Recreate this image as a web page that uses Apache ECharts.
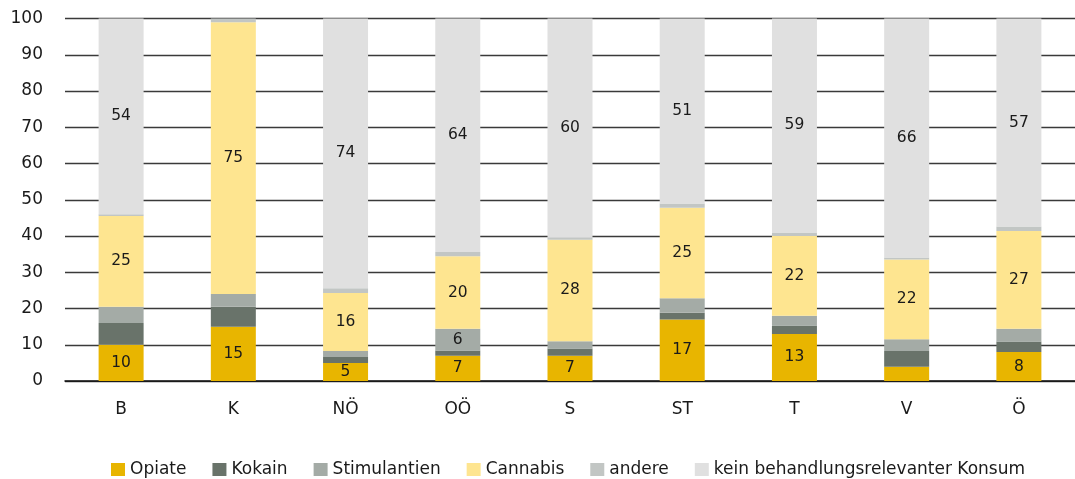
<!DOCTYPE html>
<html>
<head>
<meta charset="utf-8">
<script src="https://cdn.jsdelivr.net/npm/echarts@6/dist/echarts.min.js"></script>
<style>
  html, body { margin: 0; padding: 0; background: #fff; }
  #chart { width: 1075px; height: 479px; }
</style>
</head>
<body>
<div id="chart"></div>
<script>
// Regions (Bundesländer) and share of each main drug (percent)
const categories = ['B', 'K', 'NÖ', 'OÖ', 'S', 'ST', 'T', 'V', 'Ö'];
const opiate       = [10, 15, 5, 7, 7, 17, 13, 3.9, 8];
const kokain       = [6, 5.5, 1.6, 1.4, 2, 1.8, 2.3, 4.4, 2.9];
const stimulantien = [4.5, 3.5, 1.7, 6, 2, 4, 2.7, 3.2, 3.5];
const cannabis     = [25, 75, 16, 20, 28, 25, 22, 22, 27];
const andere       = [0.5, 1, 1.3, 1.2, 0.6, 1.2, 1, 0.6, 1.2];
const keinKonsum   = [54, 0, 74.4, 64.4, 60.4, 51, 59, 65.9, 57.4];
const yTicks = [0, 10, 20, 30, 40, 50, 60, 70, 80, 90, 100];

const FONT = "'DejaVu Sans', sans-serif";

const seriesDefs = [
  { name: 'Opiate', data: opiate, color: '#e8b500' },
  { name: 'Kokain', data: kokain, color: '#69736a' },
  { name: 'Stimulantien', data: stimulantien, color: '#a4aba6' },
  { name: 'Cannabis', data: cannabis, color: '#fee590' },
  { name: 'andere', data: andere, color: '#c2c6c4' },
  { name: 'kein behandlungsrelevanter Konsum', data: keinKonsum, color: '#e0e0e0' }
];

// only these series carry value labels on their larger segments
const labelled = ['Opiate', 'Stimulantien', 'Cannabis', 'kein behandlungsrelevanter Konsum'];

const chart = echarts.init(document.getElementById('chart'), null, { renderer: 'canvas' });

chart.setOption({
  animation: false,
  backgroundColor: '#ffffff',
  grid: { left: 65, top: 18.5, width: 1017, height: 362.5, containLabel: false },
  legend: {
    left: 106,
    top: 456,
    itemWidth: 14,
    itemHeight: 13,
    itemGap: 26,
    icon: 'rect',
    textStyle: { fontFamily: FONT, fontSize: 17, color: '#1a1a1a' },
    data: seriesDefs.map(s => s.name)
  },
  xAxis: {
    type: 'category',
    data: categories,
    axisTick: { show: false },
    axisLine: { lineStyle: { color: '#111', width: 1.5 } },
    axisLabel: { fontFamily: FONT, fontSize: 17, color: '#1a1a1a', margin: 20 }
  },
  yAxis: {
    type: 'value',
    min: yTicks[0],
    max: yTicks[yTicks.length - 1],
    interval: 10,
    axisLine: { show: false },
    axisTick: { show: false },
    axisLabel: { fontFamily: FONT, fontSize: 17, color: '#1a1a1a', margin: 22 },
    splitLine: { lineStyle: { color: '#3a3a3a', width: 1.3 } }
  },
  series: seriesDefs.map(s => ({
    name: s.name,
    type: 'bar',
    stack: 'total',
    barWidth: 45,
    data: s.data,
    itemStyle: { color: s.color },
    label: {
      show: true,
      position: 'inside',
      fontFamily: FONT,
      fontSize: 15.5,
      color: '#1a1a1a',
      formatter: p => (p.value >= 5 && labelled.includes(s.name)) ? String(Math.round(p.value)) : ''
    }
  }))
});
</script>
</body>
</html>
